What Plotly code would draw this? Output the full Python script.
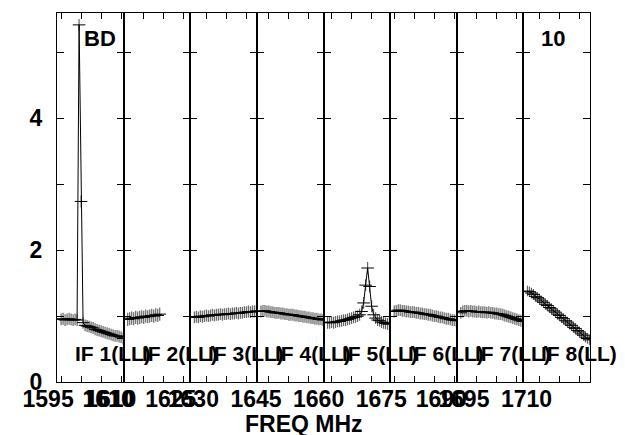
import plotly.graph_objects as go

# ---------------- data ----------------
IF_NAMES = ["IF 1(LL)", "IF 2(LL)", "IF 3(LL)", "IF 4(LL)",
            "IF 5(LL)", "IF 6(LL)", "IF 7(LL)", "IF 8(LL)"]
IF_START_MHZ = [1595, 1611, 1627, 1643, 1659, 1675, 1691, 1707]
CHAN_STEP_MHZ = 0.5

AMP_IF1 = [0.95, 0.96, 0.94, 0.95, 0.96, 0.95, 0.94, 0.95, 0.94,
           5.42, 2.74,
           0.90, 0.86, 0.85, 0.84, 0.83, 0.82, 0.80, 0.79, 0.78, 0.77, 0.76,
           0.75, 0.74, 0.73, 0.72, 0.71, 0.70, 0.70, 0.69, 0.68, 0.66]
AMP_IF2 = [0.95, 0.96, 0.97, 0.96, 0.98, 0.97, 0.98, 0.99, 0.98, 1.00,
           0.99, 1.00, 1.01, 1.00, 1.02, 1.01, 1.03,
           None, None, None, None, None, None, None, None, None, None,
           None, None, None, None, None]
AMP_IF3 = [0.98, 0.99, 0.98, 1.00, 0.99, 1.00, 1.01, 1.00, 1.01, 1.02,
           1.01, 1.02, 1.02, 1.03, 1.02, 1.03, 1.03, 1.04, 1.03, 1.04,
           1.04, 1.05, 1.04, 1.05, 1.05, 1.06, 1.06, 1.07, 1.06, 1.07,
           1.07, 1.08]
AMP_IF4 = [1.07, 1.08, 1.08, 1.07, 1.07, 1.06, 1.06, 1.05, 1.05, 1.05,
           1.04, 1.04, 1.03, 1.03, 1.02, 1.02, 1.02, 1.01, 1.01, 1.00,
           1.00, 0.99, 0.99, 0.98, 0.98, 0.97, 0.97, 0.96, 0.96, 0.95,
           0.95, 0.94]
AMP_IF5 = [0.90, 0.90, 0.91, 0.90, 0.91, 0.92, 0.92, 0.93, 0.94, 0.94,
           0.95, 0.96, 0.97, 0.98, 0.99, 1.00, 1.02,
           1.07, 1.20, 1.47, 1.73, 1.45, 1.15, 1.02, 0.97, 0.94, 0.93,
           0.91, 0.90, 0.89, 0.88, 0.88]
AMP_IF6 = [1.07, 1.08, 1.09, 1.09, 1.08, 1.08, 1.07, 1.07, 1.06, 1.06,
           1.06, 1.05, 1.05, 1.04, 1.04, 1.03, 1.03, 1.02, 1.02, 1.01,
           1.00, 1.00, 0.99, 0.98, 0.98, 0.97, 0.96, 0.96, 0.95, 0.94,
           0.94, 0.93]
AMP_IF7 = [1.05, 1.07, 1.08, 1.08, 1.07, 1.08, 1.07, 1.07, 1.06, 1.07,
           1.06, 1.06, 1.06, 1.05, 1.06, 1.05, 1.05, 1.04, 1.04, 1.03,
           1.03, 1.02, 1.01, 1.00, 0.99, 0.98, 0.97, 0.96, 0.95, 0.94,
           0.93, 0.92]
AMP_IF8 = [1.38, 1.37, 1.35, 1.33, 1.30, 1.28, 1.26, 1.23, 1.21, 1.18,
           1.16, 1.13, 1.11, 1.08, 1.06, 1.03, 1.01, 0.98, 0.96, 0.93,
           0.91, 0.88, 0.86, 0.83, 0.81, 0.78, 0.76, 0.73, 0.71, 0.68,
           0.66, 0.64]
AMPS = [AMP_IF1, AMP_IF2, AMP_IF3, AMP_IF4, AMP_IF5, AMP_IF6, AMP_IF7, AMP_IF8]
IF_ERR = [0.09, 0.10, 0.09, 0.09, 0.09, 0.09, 0.09, 0.08]

X_TICK_LABELS = [[1595, 1610], [1610, 1625], [1630], [1645], [1660],
                 [1675, 1690], [1695], [1710]]
Y_TICKS = [0, 1, 2, 3, 4, 5]
Y_TICK_TEXT = ["0", "", "2", "", "4", ""]
SOURCE_NAME = "BD"
PLOT_NUMBER = "10"
X_TITLE = "FREQ MHz"

# ---------------- styling / layout ----------------
W, H = 625, 435
ML, MR, MT, MB = 57, 35, 13, 53
PW, PH = W - ML - MR, H - MT - MB
NP = len(IF_NAMES)
SPAN = 16.65
FONT = dict(family="Liberation Sans, Arial, sans-serif", size=23, color="black", weight="bold")

fig = go.Figure()
layout = dict(
    width=W, height=H, margin=dict(l=ML, r=MR, t=MT, b=MB),
    paper_bgcolor="white", plot_bgcolor="white", showlegend=False,
    font=FONT,
)

annotations = []
for k in range(NP):
    n = k + 1
    xa = "x" if n == 1 else f"x{n}"
    ya = "y" if n == 1 else f"y{n}"
    lo = IF_START_MHZ[k] - 1.02
    hi = lo + SPAN
    freqs = [IF_START_MHZ[k] + CHAN_STEP_MHZ * j for j in range(len(AMPS[k]))]
    fig.add_trace(go.Scatter(
        x=freqs, y=AMPS[k], xaxis=xa, yaxis=ya, mode="lines+markers",
        line=dict(color="black", width=1),
        marker=dict(symbol="line-ew", size=9, color="black",
                    line=dict(color="black", width=1)),
        error_y=dict(type="data", array=[IF_ERR[k]] * len(AMPS[k]),
                     color="#666666", thickness=1.2, width=0),
        connectgaps=False, hoverinfo="skip",
    ))
    tv = [v for v in range(1585, 1735, 5) if lo <= v <= hi]
    tt = [str(v) if v in X_TICK_LABELS[k] else "" for v in tv]
    layout["xaxis" if n == 1 else f"xaxis{n}"] = dict(
        domain=[k / NP, (k + 1) / NP], anchor=ya, range=[lo, hi],
        tickmode="array", tickvals=tv, ticktext=tt,
        ticks="inside", ticklen=6, tickcolor="black", tickwidth=1,
        showline=True, linecolor="black", linewidth=1, mirror="ticks",
        showgrid=False, zeroline=False, tickfont=FONT,
        ticklabelshift=-13, ticklabelstandoff=-4,
    )
    ydict = dict(
        domain=[0, 1], anchor=xa, range=[0, 5.6],
        tickmode="array", tickvals=Y_TICKS, ticktext=Y_TICK_TEXT,
        ticks="inside", ticklen=7, tickcolor="black", tickwidth=1,
        showline=True, linecolor="black", linewidth=1, mirror="ticks",
        showgrid=False, zeroline=False, tickfont=FONT,
        showticklabels=(n == 1), ticklabelstandoff=9,
    )
    if n > 1:
        ydict["matches"] = "y"
    layout["yaxis" if n == 1 else f"yaxis{n}"] = ydict
    annotations.append(dict(
        text=IF_NAMES[k], xref="paper", yref="paper",
        x=k / NP + 16 / PW, y=(PH - (353 - MT)) / PH,
        xanchor="left", yanchor="middle", showarrow=False,
        font=dict(FONT, size=21)))

annotations.append(dict(text=SOURCE_NAME, xref="paper", yref="paper",
                        x=(82 - ML) / PW, y=(PH - (38 - MT)) / PH,
                        xanchor="left", yanchor="middle", showarrow=False,
                        font=dict(FONT, size=22)))
annotations.append(dict(text=PLOT_NUMBER, xref="paper", yref="paper",
                        x=(539 - ML) / PW, y=(PH - (38 - MT)) / PH,
                        xanchor="left", yanchor="middle", showarrow=False,
                        font=dict(FONT, size=22)))
annotations.append(dict(text=X_TITLE, xref="paper", yref="paper",
                        x=(304 - ML) / PW, y=(PH - (424 - MT)) / PH,
                        xanchor="center", yanchor="middle", showarrow=False,
                        font=FONT))
layout["annotations"] = annotations
fig.update_layout(**layout)
fig.write_html(
    "out.html",
    config={"displayModeBar": False},
    post_script="document.body.style.margin='0px';document.body.style.overflow='hidden';",
)
